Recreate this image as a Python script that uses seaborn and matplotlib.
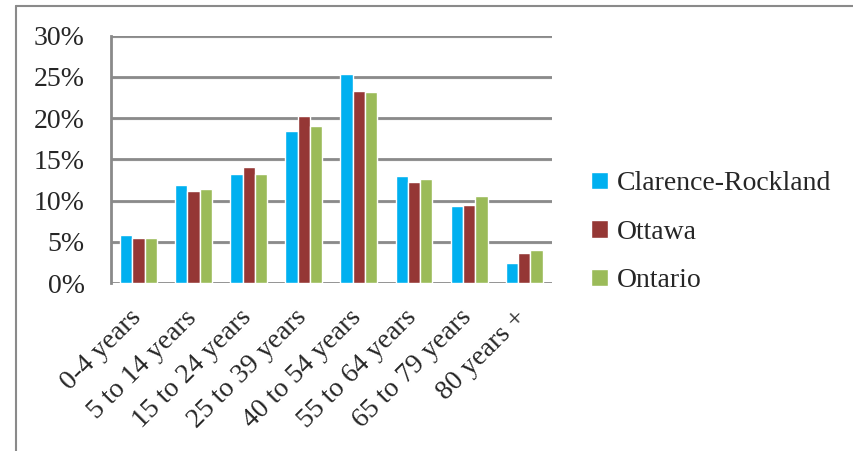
import pandas as pd
import matplotlib.pyplot as plt
import matplotlib.lines as mlines
import matplotlib.transforms as mtransforms
import seaborn as sns

# Age-group share of population (percent)
age_groups = ['0-4 years', '5 to 14 years', '15 to 24 years', '25 to 39 years',
              '40 to 54 years', '55 to 64 years', '65 to 79 years', '80 years +']
clarence_rockland = [5.85, 11.9, 13.25, 18.45, 25.3, 13.0, 9.35, 2.45]
ottawa = [5.5, 11.15, 14.1, 20.25, 23.25, 12.25, 9.5, 3.65]
ontario = [5.5, 11.4, 13.25, 19.05, 23.15, 12.6, 10.55, 4.05]

regions = ['Clarence-Rockland', 'Ottawa', 'Ontario']
colors = ['#00B0F0', '#953735', '#9BBB59']

df = pd.DataFrame({'age': age_groups,
                   'Clarence-Rockland': clarence_rockland,
                   'Ottawa': ottawa,
                   'Ontario': ontario})
df_long = df.melt(id_vars='age', var_name='region', value_name='pct')

sns.set_style('white')
plt.rcParams['font.family'] = ['Liberation Serif', 'DejaVu Serif']

fig = plt.figure(figsize=(8.54, 4.51), dpi=100)
ax = fig.add_axes([0.130, 0.372, 0.516, 0.549])

sns.barplot(data=df_long, x='age', y='pct', hue='region', hue_order=regions,
            palette=colors, width=0.67, gap=0, saturation=1, ax=ax, zorder=3)

fs = 20
grid_col = '#8a8a8a'
ax.set_ylim(0, 30)
ax.set_xlim(-0.5, len(age_groups) - 0.5)
ax.set_yticks(range(0, 31, 5))
ax.set_yticklabels([f'{v}%' for v in range(0, 31, 5)], fontsize=fs)
ax.yaxis.grid(True, color=grid_col, linewidth=2, zorder=0)
# faint shadow under each gridline
for v in range(0, 31, 5):
    ax.axhline(v - 0.12, color='#d9d9d9', linewidth=1, zorder=0)
ax.set_axisbelow(True)

ax.set_xticks(range(len(age_groups)))
ax.set_xticklabels(age_groups, rotation=45, ha='right', rotation_mode='anchor', fontsize=fs)
ax.set_xticks([i - 0.5 for i in range(len(age_groups) + 1)], minor=True)
ax.tick_params(axis='x', which='major', length=0, pad=10)
ax.tick_params(axis='x', which='minor', length=7, width=2, color=grid_col, direction='out')
ax.tick_params(axis='y', length=9, width=2, color=grid_col, direction='out', pad=10)

# nudge the rotated category labels (after tick_params, which resets transforms)
shift = mtransforms.ScaledTranslation(-0.10, -0.08, fig.dpi_scale_trans)
for lbl in ax.get_xticklabels():
    lbl.set_transform(lbl.get_transform() + shift)

for side in ['top', 'right', 'bottom']:
    ax.spines[side].set_visible(False)
ax.spines['left'].set_color(grid_col)
ax.spines['left'].set_linewidth(2)
ax.set_xlabel('')
ax.set_ylabel('')

handles, labels = ax.get_legend_handles_labels()
ax.legend(handles, labels, loc='center left', bbox_to_anchor=(0.679, 0.485),
          bbox_transform=fig.transFigure, frameon=False, fontsize=fs,
          handlelength=0.6, handleheight=0.6, handletextpad=0.35, labelspacing=0.85,
          borderaxespad=0)

# outer chart frame (top and left edges visible)
fig.add_artist(mlines.Line2D([16 / 854, 1.0], [1 - 6 / 451, 1 - 6 / 451],
                             transform=fig.transFigure, color='#8a8a8a', linewidth=1.5))
fig.add_artist(mlines.Line2D([16 / 854, 16 / 854], [0, 1 - 6 / 451],
                             transform=fig.transFigure, color='#8a8a8a', linewidth=1.5))

plt.savefig('out.png', dpi=100)
